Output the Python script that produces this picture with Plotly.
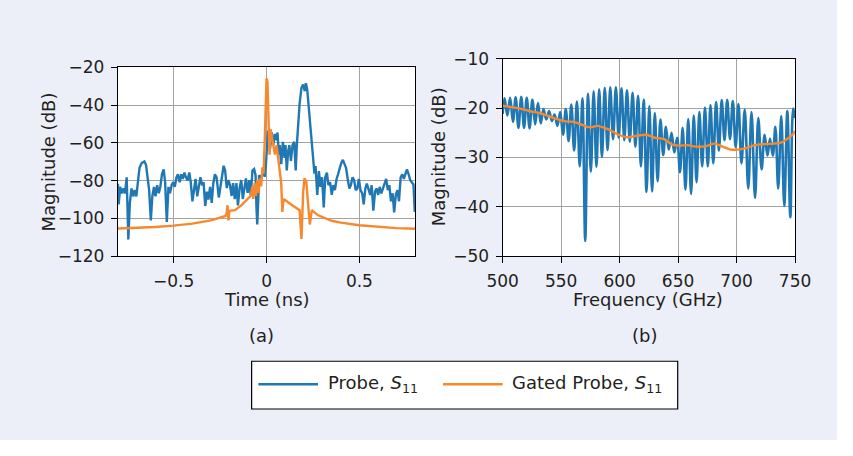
import plotly.graph_objects as go

# ---------------- data ----------------
# (a) time domain, Probe S11
time_ns = [
    -0.800, -0.796, -0.788, -0.779, -0.770, -0.762, -0.753, -0.744, -0.736, -0.727,
    -0.718, -0.710, -0.701, -0.693, -0.684, -0.672, -0.658, -0.649, -0.641, -0.632,
    -0.623, -0.615, -0.606, -0.598, -0.589, -0.580, -0.572, -0.563, -0.554, -0.546,
    -0.537, -0.528, -0.520, -0.511, -0.503, -0.494, -0.485, -0.477, -0.468, -0.459,
    -0.451, -0.442, -0.434, -0.425, -0.416, -0.408, -0.399, -0.390, -0.382, -0.373,
    -0.364, -0.356, -0.347, -0.339, -0.330, -0.321, -0.313, -0.304, -0.295, -0.287,
    -0.278, -0.269,
    -0.257, -0.249, -0.240, -0.231, -0.223, -0.214, -0.206, -0.197, -0.188, -0.180,
    -0.171, -0.162, -0.154, -0.145, -0.136, -0.128, -0.119, -0.111, -0.102, -0.093,
    -0.085, -0.076, -0.067, -0.059, -0.054, -0.050, -0.045, -0.040, -0.033, -0.024,
    -0.016, -0.010, -0.004, 0.003, 0.008,
    0.013, 0.019, 0.028, 0.036, 0.045, 0.054, 0.059, 0.066, 0.071, 0.079,
    0.088, 0.097, 0.102, 0.109, 0.116, 0.123, 0.131, 0.140, 0.149, 0.157,
    0.163, 0.170, 0.178, 0.188, 0.197, 0.206, 0.212, 0.219, 0.226, 0.235,
    0.244, 0.252, 0.258,
    0.264, 0.273, 0.282, 0.290, 0.299, 0.308, 0.316, 0.325, 0.333, 0.342,
    0.351, 0.359, 0.368, 0.377, 0.385, 0.394, 0.402, 0.411, 0.420, 0.428,
    0.437, 0.446, 0.454, 0.463, 0.472, 0.480, 0.489, 0.497, 0.506, 0.515,
    0.523, 0.532, 0.540, 0.549, 0.558, 0.566, 0.575, 0.584, 0.592, 0.601,
    0.609, 0.618, 0.627, 0.635, 0.644, 0.653, 0.661, 0.670, 0.679, 0.687,
    0.696, 0.705, 0.713, 0.722, 0.731, 0.739, 0.748, 0.756, 0.765, 0.774,
    0.782, 0.791, 0.798,
]
probe_time_db = [
    -81.6, -92.5, -83.3, -86.7, -84.1, -86.7, -78.2, -111.1, -91.7, -84.1,
    -88.3, -85.0, -88.3, -79.1, -73.2, -70.7, -69.8, -71.5, -78.2, -85.0,
    -101.0, -88.3, -83.3, -88.3, -82.4, -86.7, -83.3, -76.6, -74.0, -80.8,
    -101.8, -83.3, -86.7, -82.4, -80.8, -83.3, -78.2, -76.6, -80.8, -76.6,
    -79.1, -75.7, -78.2, -79.9, -75.7, -80.8, -90.9, -83.3, -79.1, -88.3,
    -81.6, -78.2, -82.4, -80.8, -93.4, -85.8, -90.0, -83.3, -91.7, -81.6,
    -76.6, -78.2,
    -88.9, -82.2, -78.0, -72.1, -74.6, -83.9, -79.7, -82.2, -88.1, -81.3,
    -89.7, -81.3, -93.1, -83.9, -79.7, -89.7, -83.0, -78.8, -86.4, -79.7,
    -88.1, -74.6, -73.8, -77.1, -94.8, -103.2, -91.4, -77.1, -78.0, -77.1,
    -74.6, -78.0, -72.0, -62.0, -54.0,
    -53.6, -63.0, -54.5, -61.2, -55.3, -58.6, -54.5, -66.2, -61.2, -71.3,
    -59.5, -67.9, -61.2, -74.6, -64.6, -61.2, -69.6, -61.2, -59.5, -74.6,
    -61.2, -50.0, -39.3, -30.9, -29.2, -32.6, -28.4, -31.8, -39.3, -52.8,
    -61.2, -67.9, -76.3,
    -72.3, -87.5, -74.9, -83.3, -78.2, -94.2, -78.2, -75.7, -82.4, -80.8,
    -87.5, -82.4, -85.0, -79.1, -76.6, -73.2, -70.7, -69.0, -71.5, -73.2,
    -79.1, -84.1, -82.4, -78.2, -79.9, -85.0, -84.1, -79.1, -85.0, -86.7,
    -92.5, -84.1, -81.6, -85.0, -87.5, -82.4, -95.9, -85.8, -84.1, -87.5,
    -83.3, -86.7, -84.1, -80.8, -79.1, -85.0, -82.4, -90.9, -86.7, -96.8,
    -87.5, -85.0, -90.9, -78.2, -76.6, -79.1, -76.6, -74.0, -76.6, -79.9,
    -80.8, -82.0, -96.5,
]

# (a) time domain, Gated Probe S11
gated_time_ns = [
    -0.80, -0.70, -0.60, -0.50, -0.40, -0.30, -0.25, -0.22, -0.215, -0.210,
    -0.205, -0.200, -0.170, -0.136, -0.102, -0.085, -0.076, -0.071, -0.064, -0.057,
    -0.050, -0.043, -0.036, -0.029, -0.022, -0.016, -0.010, -0.005, 0.000, 0.005,
    0.010, 0.016, 0.022, 0.033, 0.045, 0.054, 0.062, 0.071, 0.079, 0.085,
    0.092, 0.140, 0.178, 0.188, 0.197, 0.204, 0.214, 0.223, 0.233, 0.244,
    0.275, 0.35, 0.40, 0.50, 0.60, 0.70, 0.80,
]
gated_time_db = [
    -105.3, -105.0, -104.5, -103.8, -102.7, -101.0, -99.8, -98.7, -97.5, -93.0,
    -101.0, -96.0, -95.6, -93.1, -89.7, -88.0, -83.0, -89.7, -81.3, -88.0,
    -79.7, -86.4, -78.8, -83.0, -73.0, -76.3, -59.5, -39.3, -25.9, -27.6,
    -44.4, -66.2, -52.8, -59.5, -66.2, -61.2, -67.9, -74.6, -81.3, -96.5,
    -89.7, -93.1, -95.6, -110.8, -86.4, -78.8, -80.5, -91.4, -103.2, -95.6,
    -98.2, -101.2, -102.2, -103.6, -104.5, -105.1, -105.4,
]

# (b) frequency domain, Probe S11
freq_ghz = [
    500.0, 501.6, 504.0, 506.4, 508.8, 511.1, 513.5, 515.9, 518.3, 520.6,
    523.0, 525.4, 527.8, 530.2, 532.6, 534.9, 537.3, 539.7, 542.1, 544.4,
    546.8, 549.2, 551.6, 554.0, 556.4, 558.7, 561.1, 563.5, 565.9, 568.2,
    570.6, 573.0, 575.4, 577.8, 580.2, 582.5, 584.9, 587.3, 589.7, 592.0,
    594.4, 596.8, 599.2, 601.6, 604.0, 606.3, 608.7, 611.1, 613.5, 615.8,
    618.2, 620.6, 623.0, 625.4, 627.8, 630.1, 632.5, 634.9, 637.3, 639.6,
    642.0, 644.4, 646.8, 649.2, 651.6, 653.9, 656.3, 658.7, 661.1, 663.4,
    665.8, 668.2, 670.6, 673.0, 675.4, 677.7, 680.1, 682.5, 684.9, 687.3,
    689.7, 692.0, 694.4, 696.8, 699.2, 701.6, 704.2, 707.0, 710.0, 712.8,
    715.8, 718.6, 721.4, 724.0, 726.4, 728.6, 731.0, 733.2, 735.6, 738.2,
    740.8, 743.4, 746.0, 748.4, 750.0,
]
probe_freq_db = [
    -21.2, -18.0, -21.5, -17.9, -22.8, -17.8, -24.0, -17.7, -24.0, -17.9,
    -24.1, -18.3, -23.3, -19.0, -23.1, -20.2, -22.3, -20.6, -22.6, -21.3,
    -23.6, -20.8, -25.4, -20.2, -26.7, -19.3, -28.6, -18.7, -31.8, -18.0,
    -46.9, -17.1, -32.9, -16.6, -31.9, -16.2, -29.9, -15.9, -28.5, -15.8,
    -26.3, -15.8, -26.0, -16.0, -26.5, -16.4, -26.8, -16.9, -27.8, -17.5,
    -31.8, -18.3, -37.0, -19.6, -36.9, -21.0, -34.8, -22.3, -29.5, -23.8,
    -28.4, -25.0, -29.0, -26.0, -33.0, -24.0, -36.5, -22.2, -37.4, -21.5,
    -35.0, -20.8, -31.8, -19.9, -31.8, -19.4, -31.2, -18.8, -28.6, -18.4,
    -26.5, -18.3, -26.3, -18.6, -27.9, -19.2, -31.2, -20.3, -36.3, -20.8,
    -38.2, -22.0, -32.4, -25.4, -29.6, -26.2, -29.6, -23.8, -36.3, -21.6,
    -39.8, -20.6, -42.1, -20.1, -22.0,
]

# (b) frequency domain, Gated Probe S11
gated_freq_ghz = [
    500, 507, 515, 523, 531, 539, 546, 554, 561, 569,
    575, 581, 587, 593, 599, 607, 615, 623, 630, 638,
    645, 651, 658, 665, 674, 681, 688, 695, 701, 708,
    716, 724, 732, 738, 743, 747, 750,
]
gated_freq_db = [
    -19.5, -19.8, -20.1, -20.6, -21.0, -21.6, -22.2, -22.7, -22.8, -23.5,
    -23.9, -23.6, -24.0, -24.6, -25.4, -25.9, -25.6, -25.4, -26.0, -26.3,
    -27.4, -27.6, -27.5, -27.8, -27.7, -27.2, -27.8, -28.4, -28.4, -28.1,
    -27.5, -27.3, -27.2, -27.0, -26.3, -25.6, -24.7,
]

time_ticks = [-0.5, 0, 0.5]
mag_ticks_a = [-120, -100, -80, -60, -40, -20]
freq_ticks = [500, 550, 600, 650, 700, 750]
mag_ticks_b = [-50, -40, -30, -20, -10]

series_names = ["Probe, <i>S</i><sub>11</sub>", "Gated Probe, <i>S</i><sub>11</sub>"]

# ---------------- styling ----------------
# the page body keeps an 8 px white margin around the figure
OFF = 8
W, H = 837, 440
BLUE = "#1f77b4"
ORANGE = "#f7882c"
PANEL = "#eceef8"
GRID = "#a3a3a3"
TXT = "#231f20"
FONT = "DejaVu Sans, Verdana, sans-serif"
FS_TICK = 17
FS_TEXT = 18


def fx(px):
    return (px - OFF) / W


def fy(py):
    return 1 - (py - OFF) / H


fig = go.Figure()
fig.add_trace(go.Scatter(x=time_ns, y=probe_time_db, mode="lines",
                         line=dict(color=BLUE, width=2.4), xaxis="x", yaxis="y",
                         showlegend=False))
fig.add_trace(go.Scatter(x=gated_time_ns, y=gated_time_db, mode="lines",
                         line=dict(color=ORANGE, width=2.4), xaxis="x", yaxis="y",
                         showlegend=False))
fig.add_trace(go.Scatter(x=freq_ghz, y=probe_freq_db, mode="lines",
                         line=dict(color=BLUE, width=2.6, shape="spline"),
                         xaxis="x2", yaxis="y2", showlegend=False))
fig.add_trace(go.Scatter(x=gated_freq_ghz, y=gated_freq_db, mode="lines",
                         line=dict(color=ORANGE, width=2.4, shape="spline"),
                         xaxis="x2", yaxis="y2", showlegend=False))

axis_common = dict(
    showline=True, linecolor="black", linewidth=1.3, mirror=True,
    ticks="outside", ticklen=6, tickcolor="black", tickwidth=1.2,
    showgrid=True, gridcolor=GRID, gridwidth=1.3, zeroline=False,
    tickfont=dict(family=FONT, size=FS_TICK, color=TXT),
)

fig.update_layout(
    width=W, height=H, autosize=False,
    margin=dict(l=0, r=0, t=0, b=0),
    paper_bgcolor=PANEL, plot_bgcolor="white",
    font=dict(family=FONT, size=FS_TEXT, color=TXT),
    showlegend=False,
    xaxis=dict(domain=[fx(114), fx(423)], range=[-0.8, 0.8], tickvals=time_ticks,
               anchor="y", ticklabelstandoff=3, **axis_common),
    yaxis=dict(domain=[fy(266), fy(68)], range=[-120, -20], tickvals=mag_ticks_a,
               anchor="x", ticklabelstandoff=3, **axis_common),
    xaxis2=dict(domain=[fx(514), fx(818)], range=[500, 750], tickvals=freq_ticks,
                anchor="y2", ticklabelstandoff=3, **axis_common),
    yaxis2=dict(domain=[fy(266), fy(59)], range=[-50, -10], tickvals=mag_ticks_b,
                anchor="x2", ticklabelstandoff=3, **axis_common),
)

shapes = [
    # legend box
    dict(type="rect", xref="paper", yref="paper", x0=fx(253), x1=fx(696),
         y0=fy(426), y1=fy(376), fillcolor="white", line=dict(color="black", width=1.2)),
    dict(type="line", xref="paper", yref="paper", x0=fx(260), x1=fx(322),
         y0=fy(400), y1=fy(400), line=dict(color=BLUE, width=2.6)),
    dict(type="line", xref="paper", yref="paper", x0=fx(452), x1=fx(514),
         y0=fy(400), y1=fy(400), line=dict(color=ORANGE, width=2.6)),
]
fig.update_layout(shapes=shapes)


def label(text, x, y, angle=0, xanchor="center"):
    return dict(text=text, xref="paper", yref="paper", x=fx(x), y=fy(y),
                xanchor=xanchor, yanchor="middle", showarrow=False, textangle=angle,
                font=dict(family=FONT, size=FS_TEXT, color=TXT))


fig.update_layout(annotations=[
    label("Magnitude (dB)", 42, 167, angle=-90),
    label("Magnitude (dB)", 447, 162, angle=-90),
    label("Time (ns)", 269, 311),
    label("Frequency (GHz)", 665, 311),
    label("(a)", 263, 349),
    label("(b)", 662, 349),
    label(series_names[0], 330, 400, xanchor="left"),
    label(series_names[1], 522, 400, xanchor="left"),
])

fig.write_html("out.html")
